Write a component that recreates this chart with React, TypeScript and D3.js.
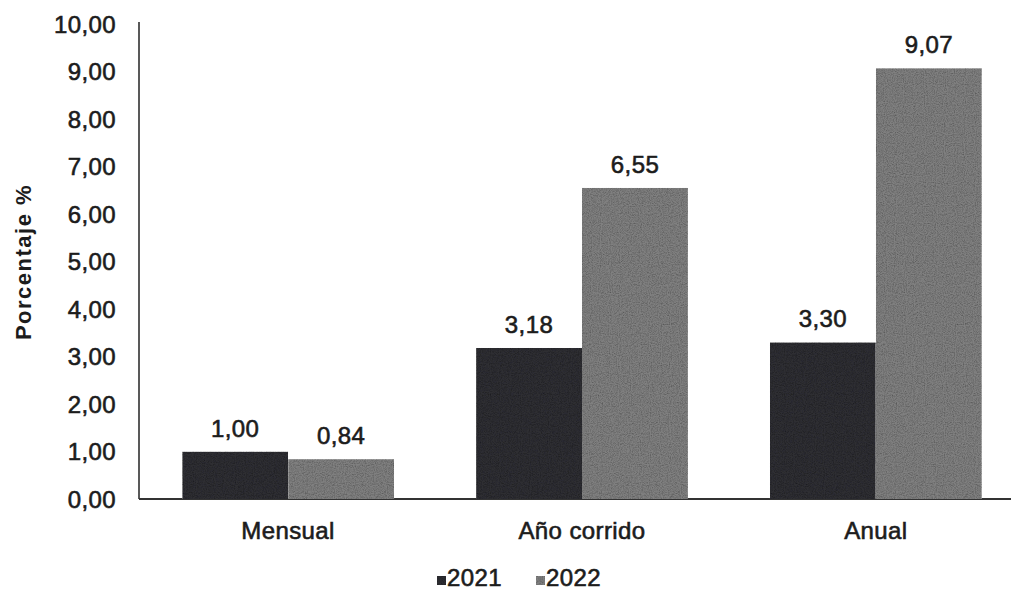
import React from 'react';
import * as d3 from 'd3';

const categories = ['Mensual', 'Año corrido', 'Anual'];
const series = ['2021', '2022'];
const values2021 = [1.0, 3.18, 3.3];
const values2022 = [0.84, 6.55, 9.07];
const yTicks = [0, 1, 2, 3, 4, 5, 6, 7, 8, 9, 10];

const colors: Record<string, string> = { '2021': '#2e2e33', '2022': '#808080' };

const width = 1011;
const height = 591;
const fmt = (v: number) => v.toFixed(2).replace('.', ',');
const font = '"Liberation Sans", Arial, sans-serif';
const ink = '#1c1c1c';
// scanned text looks heavier, thicken it a bit
const textStyle = { letterSpacing: '0.4px', stroke: ink, strokeWidth: 0.6 };

export default function App() {
  const x = d3.scaleBand<string>().domain(categories).range([141, 1023]).paddingInner(0.279).paddingOuter(0.14);
  const xs = d3.scaleBand<string>().domain(series).range([0, x.bandwidth()]);
  const y = d3.scaleLinear().domain([0, 10]).range([499, 24]);

  const rows = categories.map((c, i) => ({ cat: c, vals: [values2021[i], values2022[i]] }));

  return (
    <svg width={width} height={height} style={{ display: 'block', position: 'absolute', left: 0, top: 0, background: '#fff' }}>
      <defs>
        <filter id="grain" x="0" y="0" width="100%" height="100%">
          <feTurbulence type="fractalNoise" baseFrequency="0.9" numOctaves="2" seed="3" result="noise" />
          <feColorMatrix in="noise" type="saturate" values="0" result="gray" />
          <feComponentTransfer in="gray" result="g2">
            <feFuncR type="linear" slope="1.3" intercept="0.2" />
            <feFuncG type="linear" slope="1.3" intercept="0.2" />
            <feFuncB type="linear" slope="1.3" intercept="0.2" />
            <feFuncA type="linear" slope="0" intercept="1" />
          </feComponentTransfer>
          <feBlend in="SourceGraphic" in2="g2" mode="multiply" result="b" />
          <feComposite in="b" in2="SourceGraphic" operator="in" />
        </filter>
      </defs>

      {/* y axis line + baseline */}
      <line x1={139} x2={139} y1={22} y2={y(0)} stroke="#222" strokeWidth={1.5} />
      <line x1={139} x2={1011} y1={y(0)} y2={y(0)} stroke="#333" strokeWidth={1.8} />

      {yTicks.map(t => (
        <text key={t} x={116} y={y(t)} dy="0.36em" textAnchor="end" fontFamily={font} fontSize={24}
          fill={ink} style={textStyle}>{fmt(t)}</text>
      ))}

      <text transform="translate(31,262) rotate(-90)" textAnchor="middle" fontFamily={font} fontSize={22}
        fontWeight="bold" fill={ink} style={{ letterSpacing: '1.5px' }}>Porcentaje %</text>

      {rows.map(r => (
        <g key={r.cat} transform={`translate(${x(r.cat)},0)`}>
          {series.map((s, j) => {
            const v = r.vals[j];
            const bx = xs(s)!;
            return (
              <g key={s}>
                <rect x={bx} y={y(v)} width={xs.bandwidth()} height={y(0) - y(v)} fill={colors[s]} filter="url(#grain)" />
                <text x={bx + xs.bandwidth() / 2} y={y(v) - 15} textAnchor="middle" fontFamily={font} fontSize={24}
                  fill={ink} style={textStyle}>{fmt(v)}</text>
              </g>
            );
          })}
          <text x={x.bandwidth() / 2} y={539} textAnchor="middle" fontFamily={font} fontSize={24}
            fill={ink} style={textStyle}>{r.cat}</text>
        </g>
      ))}

      {/* legend */}
      {series.map((s, i) => {
        const lx = 437 + i * 99;
        return (
          <g key={s}>
            <rect x={lx} y={576} width={9} height={9} fill={colors[s]} filter="url(#grain)" />
            <text x={lx + 10} y={586} fontFamily={font} fontSize={24} fill={ink} style={textStyle}>{s}</text>
          </g>
        );
      })}
    </svg>
  );
}
